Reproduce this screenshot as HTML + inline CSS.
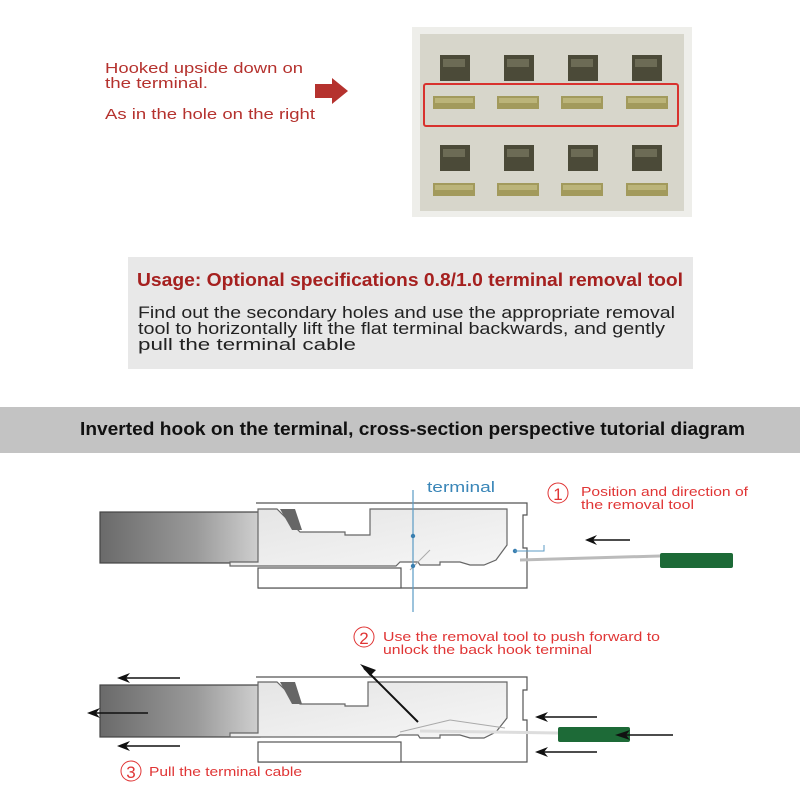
<!DOCTYPE html>
<html><head><meta charset="utf-8"><style>
body{margin:0;background:#fff;width:800px;height:800px;overflow:hidden;font-family:"Liberation Sans",sans-serif}
</style></head><body>
<svg width="800" height="800" viewBox="0 0 800 800" xmlns="http://www.w3.org/2000/svg" font-family="Liberation Sans, sans-serif">
<defs>
<linearGradient id="cab" x1="0" y1="0" x2="1" y2="0"><stop offset="0" stop-color="#6a6a6a"/><stop offset="0.6" stop-color="#9a9a9a"/><stop offset="1" stop-color="#d0d0d0"/></linearGradient>
<linearGradient id="term" x1="0" y1="0" x2="1" y2="1"><stop offset="0" stop-color="#e4e4e4"/><stop offset="1" stop-color="#f6f6f6"/></linearGradient>
<g id="hole"><rect width="30" height="26" fill="#4b4a38"/><rect x="3" y="4" width="22" height="8" fill="#6c6b55"/></g>
<g id="slot"><rect width="42" height="13" fill="#a29a5c"/><rect x="2" y="2" width="38" height="5" fill="#bbb479"/></g>
</defs>
<!-- top text -->
<g fill="#b5322e" font-size="15" lengthAdjust="spacingAndGlyphs">
<text x="105" y="73" textLength="198" lengthAdjust="spacingAndGlyphs">Hooked upside down on</text>
<text x="105" y="88" textLength="103" lengthAdjust="spacingAndGlyphs">the terminal.</text>
<text x="105" y="119" textLength="210" lengthAdjust="spacingAndGlyphs">As in the hole on the right</text>
</g>
<polygon points="315,84 332,84 332,78 348,91 332,104 332,98 315,98" fill="#b5322e"/>
<!-- photo -->
<rect x="412" y="27" width="280" height="190" fill="#eeeeea"/>
<rect x="420" y="34" width="264" height="177" fill="#d7d6cb"/>
<use href="#hole" x="440" y="55"/><use href="#hole" x="504" y="55"/><use href="#hole" x="568" y="55"/><use href="#hole" x="632" y="55"/>
<use href="#slot" x="433" y="96"/><use href="#slot" x="497" y="96"/><use href="#slot" x="561" y="96"/><use href="#slot" x="626" y="96"/>
<use href="#hole" x="440" y="145"/><use href="#hole" x="504" y="145"/><use href="#hole" x="568" y="145"/><use href="#hole" x="632" y="145"/>
<use href="#slot" x="433" y="183"/><use href="#slot" x="497" y="183"/><use href="#slot" x="561" y="183"/><use href="#slot" x="626" y="183"/>
<rect x="424" y="84" width="254" height="42" rx="2" fill="none" stroke="#d8322e" stroke-width="2"/>
<!-- usage box -->
<rect x="128" y="257" width="565" height="112" fill="#e8e8e8"/>
<text x="137" y="286" font-size="18" font-weight="bold" fill="#a5201f" textLength="546" lengthAdjust="spacingAndGlyphs">Usage: Optional specifications 0.8/1.0 terminal removal tool</text>
<g font-size="16.5" fill="#222">
<text x="138" y="318" textLength="537" lengthAdjust="spacingAndGlyphs">Find out the secondary holes and use the appropriate removal</text>
<text x="138" y="334" textLength="527" lengthAdjust="spacingAndGlyphs">tool to horizontally lift the flat terminal backwards, and gently</text>
<text x="138" y="350" textLength="218" lengthAdjust="spacingAndGlyphs">pull the terminal cable</text>
</g>
<!-- band -->
<rect x="0" y="407" width="800" height="46" fill="#c3c3c3"/>
<text x="80" y="435" font-size="18" font-weight="bold" fill="#111" textLength="665" lengthAdjust="spacingAndGlyphs">Inverted hook on the terminal, cross-section perspective tutorial diagram</text>

<!-- Diagram 1 -->
<g stroke="#555" stroke-width="1.2">
<rect x="100" y="512" width="160" height="51" fill="url(#cab)" stroke="#444"/>
<path d="M256,503 H527 V515 H523 V548 H527 V588 H258" fill="none"/>
<rect x="258" y="568" width="143" height="20" fill="#fff"/>
<polygon points="258,509 277,509 300,532 345,532 345,535 370,535 370,509 507,509 507,545 496,560 484,565 470,565 460,562 440,562 440,565 420,565 418,562 400,562 396,566 230,566 230,562 258,562" fill="url(#term)" stroke="#666"/>
<polygon points="280,509 295,509 302,530 292,530" fill="#666" stroke="none"/>
</g>
<line x1="410" y1="570" x2="430" y2="550" stroke="#aaa"/>
<line x1="520" y1="560" x2="660" y2="556" stroke="#bbb" stroke-width="3"/>
<rect x="660" y="553" width="73" height="15" rx="2" fill="#1d6a37"/>
<line x1="413" y1="490" x2="413" y2="612" stroke="#5b9bc4" stroke-width="1.2"/>
<circle cx="413" cy="536" r="2.2" fill="#3a7fb0"/><circle cx="413" cy="566" r="2.2" fill="#3a7fb0"/><circle cx="515" cy="551" r="2.2" fill="#3a7fb0"/>
<path d="M515,551 H544 V545" fill="none" stroke="#5b9bc4"/>
<text x="427" y="492" font-size="15" fill="#3a86b8" textLength="68" lengthAdjust="spacingAndGlyphs">terminal</text>
<line x1="590" y1="540" x2="630" y2="540" stroke="#111" stroke-width="1.5"/><polygon points="585,540 597,535 593,540 597,545" fill="#111"/>
<circle cx="558" cy="493" r="10" fill="none" stroke="#e03535"/>
<text x="558" y="500" font-size="17" fill="#e03535" text-anchor="middle">1</text>
<g font-size="13" fill="#e03535"><text x="581" y="496" textLength="167" lengthAdjust="spacingAndGlyphs">Position and direction of</text><text x="581" y="509" textLength="113" lengthAdjust="spacingAndGlyphs">the removal tool</text></g>

<!-- Diagram 2 -->
<g stroke="#555" stroke-width="1.2">
<rect x="100" y="685" width="160" height="52" fill="url(#cab)" stroke="#444"/>
<path d="M256,677 H527 V690 H523 V720 H527 V762 H258" fill="none"/>
<rect x="258" y="742" width="143" height="20" fill="#fff"/>
<polygon points="258,682 277,682 300,704 345,704 345,706 368,706 368,682 507,682 507,718 496,732 484,738 470,738 460,735 440,735 440,738 420,738 418,735 400,735 396,737 230,737 230,733 258,733" fill="url(#term)" stroke="#666"/>
<polygon points="280,682 295,682 302,704 292,704" fill="#666" stroke="none"/>
</g>
<line x1="400" y1="732" x2="450" y2="720" stroke="#aaa"/>
<line x1="450" y1="720" x2="505" y2="728" stroke="#aaa"/>
<line x1="420" y1="731" x2="558" y2="733" stroke="#ddd" stroke-width="3"/>
<rect x="558" y="727" width="72" height="15" rx="2" fill="#1d6a37"/>
<g stroke="#111" stroke-width="1.5">
<line x1="122" y1="678" x2="180" y2="678"/><line x1="92" y1="713" x2="148" y2="713"/><line x1="122" y1="746" x2="180" y2="746"/>
<line x1="540" y1="717" x2="597" y2="717"/><line x1="540" y1="752" x2="597" y2="752"/><line x1="622" y1="735" x2="673" y2="735"/>
<line x1="418" y1="722" x2="364" y2="668" stroke-width="2"/>
</g>
<g fill="#111">
<polygon points="117,678 130,673 126,678 130,683"/><polygon points="87,713 100,708 96,713 100,718"/><polygon points="117,746 130,741 126,746 130,751"/>
<polygon points="535,717 548,712 544,717 548,722"/><polygon points="535,752 548,747 544,752 548,757"/><polygon points="615,735 630,730 626,735 630,740"/>
<polygon points="360,664 376,670 370,676"/>
</g>
<circle cx="364" cy="637" r="10" fill="none" stroke="#e03535"/>
<text x="364" y="644" font-size="17" fill="#e03535" text-anchor="middle">2</text>
<g font-size="13" fill="#e03535"><text x="383" y="641" textLength="277" lengthAdjust="spacingAndGlyphs">Use the removal tool to push forward to</text><text x="383" y="654" textLength="209" lengthAdjust="spacingAndGlyphs">unlock the back hook terminal</text>
<text x="149" y="776" textLength="153" lengthAdjust="spacingAndGlyphs">Pull the terminal cable</text></g>
<circle cx="131" cy="771" r="10" fill="none" stroke="#e03535"/>
<text x="131" y="778" font-size="17" fill="#e03535" text-anchor="middle">3</text>
</svg>
</body></html>
